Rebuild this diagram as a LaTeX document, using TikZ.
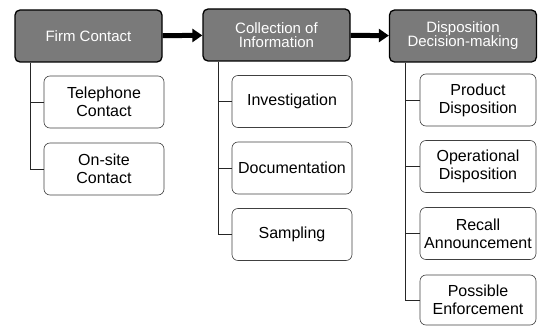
\documentclass[tikz,border=0pt]{standalone}
\usepackage{fontspec}
\setmainfont{Liberation Sans}
\usetikzlibrary{positioning, arrows.meta}

\begin{document}
\begin{tikzpicture}[x=1pt,y=-1pt]
		\tikzstyle{header} = [draw=black, line width=1.3pt, fill=black!52, rounded corners=5pt, minimum width=147pt, minimum height=52pt, inner sep=1pt, align=center, text=white, font=\fontsize{15}{14}\selectfont]
		\tikzstyle{item} = [draw=black!75, line width=0.6pt, rounded corners=6pt, minimum height=52pt, inner sep=1pt, align=center, font=\fontsize{16}{18}\selectfont]
		\tikzstyle{bigarrow} = [-{Triangle[length=10pt,width=13pt]}, line width=5pt]
		\tikzstyle{link} = [draw, black!85, line width=0.7pt]
		\useasboundingbox (0,0) rectangle (538,326);
		% headers
		\node [header] (h1) at (88.5,36) {Firm Contact};
		\node [header] (h2) at (276.5,35) {Collection of\\Information};
		\node [header] (h3) at (463,36) {Disposition\\Decision-making};
		\draw [bigarrow] (h1) -- (h2);
		\draw [bigarrow] (h2) -- (h3);
		% first column
		\node [item, minimum width=120pt] (c11) at (104,102) {Telephone\\Contact};
		\node [item, minimum width=120pt] (c12) at (104,169) {On-site\\Contact};
		% second column
		\node [item, minimum width=120pt] (c21) at (292,101.5) {Investigation};
		\node [item, minimum width=120pt] (c22) at (292,168) {Documentation};
		\node [item, minimum width=120pt] (c23) at (292,234.5) {Sampling};
		% third column
		\node [item, minimum width=116pt] (c31) at (478,100) {Product\\Disposition};
		\node [item, minimum width=116pt] (c32) at (478,166.5) {Operational\\Disposition};
		\node [item, minimum width=116pt] (c33) at (478,233.5) {Recall\\Announcement};
		\node [item, minimum width=116pt, minimum height=50pt] (c34) at (478,300) {Possible\\Enforcement};
		% trunks
		\coordinate (t1) at (30,0);
		\coordinate (t2) at (218,0);
		\coordinate (t3) at (405,0);
		\draw [link] (t1 |- h1.south) |- (c11.west);
		\draw [link] (t1 |- h1.south) |- (c12.west);
		\draw [link] (t2 |- h2.south) |- (c21.west);
		\draw [link] (t2 |- h2.south) |- (c22.west);
		\draw [link] (t2 |- h2.south) |- (c23.west);
		\draw [link] (t3 |- h3.south) |- (c31.west);
		\draw [link] (t3 |- h3.south) |- (c32.west);
		\draw [link] (t3 |- h3.south) |- (c33.west);
		\draw [link] (t3 |- h3.south) |- (c34.west);
\end{tikzpicture}
\end{document}
